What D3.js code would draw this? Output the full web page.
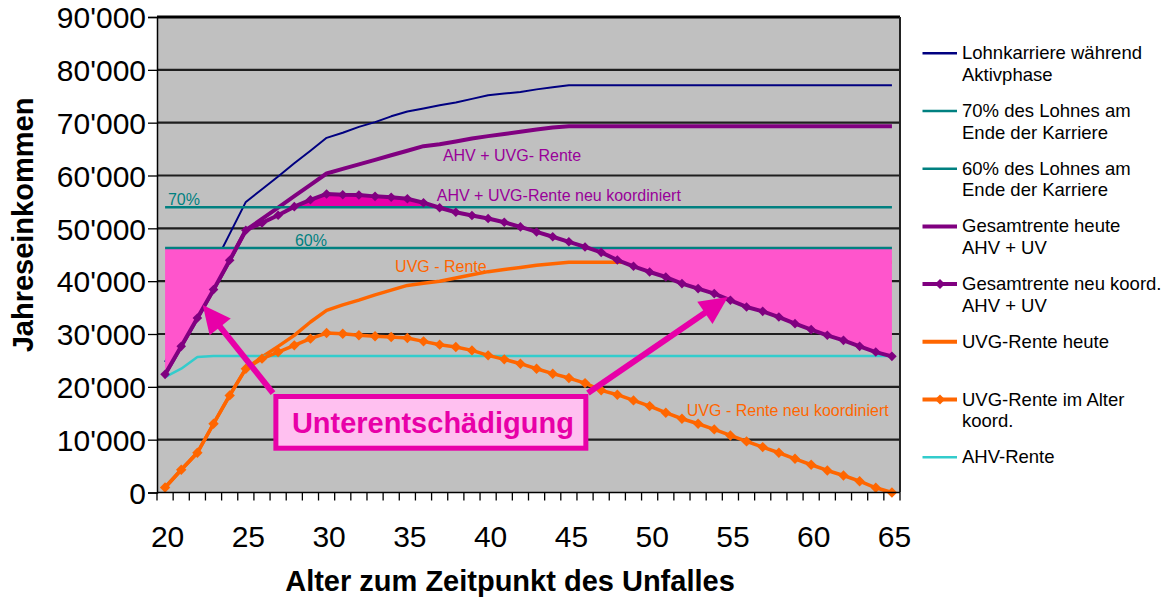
<!DOCTYPE html>
<html><head><meta charset="utf-8">
<script src="https://cdn.jsdelivr.net/npm/d3@7"></script>
<style>
body{margin:0;background:#fff}
svg{display:block}
text{font-family:"Liberation Sans",Arial,Helvetica,sans-serif}
</style>
</head><body>
<svg id="c" width="1171" height="599"></svg>
<script>
// ---------- DATA ----------
const ages = [20,21,22,23,24,25,26,27,28,29,30,31,32,33,34,35,36,37,38,39,40,41,42,43,44,45,46,47,48,49,50,51,52,53,54,55,56,57,58,59,60,61,62,63,64,65];

const lohn = [24700,30750,36800,42900,48950,55000,57400,59800,62300,64700,67130,68100,69200,70100,71200,72100,72700,73300,73800,74500,75200,75500,75800,76300,76700,77100,77100,77100,77100,77100,77100,77100,77100,77100,77100,77100,77100,77100,77100,77100,77100,77100,77100,77100,77100,77100];

const pct70 = [53970,53970,53970,53970,53970,53970,53970,53970,53970,53970,53970,53970,53970,53970,53970,53970,53970,53970,53970,53970,53970,53970,53970,53970,53970,53970,53970,53970,53970,53970,53970,53970,53970,53970,53970,53970,53970,53970,53970,53970,53970,53970,53970,53970,53970,53970];

const pct60 = [46260,46260,46260,46260,46260,46260,46260,46260,46260,46260,46260,46260,46260,46260,46260,46260,46260,46260,46260,46260,46260,46260,46260,46260,46260,46260,46260,46260,46260,46260,46260,46260,46260,46260,46260,46260,46260,46260,46260,46260,46260,46260,46260,46260,46260,46260];

const gesHeute = [22360,27660,33030,38400,43950,49640,51790,53940,56090,58230,60380,61240,62100,62970,63830,64690,65550,65900,66450,67000,67450,67850,68270,68700,69100,69300,69300,69300,69300,69300,69300,69300,69300,69300,69300,69300,69300,69300,69300,69300,69300,69300,69300,69300,69300,69300];

const gesNeu = [22360,27660,33030,38400,43950,49640,51030,52480,54100,55400,56500,56350,56300,56050,55880,55600,54850,53900,53050,52420,51850,51150,50270,49320,48400,47450,46480,45450,44000,42820,41740,40790,39540,38590,37650,36380,35120,34290,33210,31960,30830,29750,28800,27660,26580,25770];

const uvgHeute = [950,4300,7520,13010,18380,23430,25640,27660,29750,32270,34480,35500,36400,37400,38300,39200,39600,40000,40600,41200,41800,42200,42600,43000,43300,43600,43600,43600,43600,43600,43600,43600,43600,43600,43600,43600,43600,43600,43600,43600,43600,43600,43600,43600,43600,43600];

const uvgNeu = [950,4300,7520,13010,18380,23430,25330,26580,27850,29120,30180,30060,29750,29560,29430,29240,28610,27980,27530,26900,25960,25200,24380,23430,22490,21660,20710,19330,18510,17430,16350,15100,13960,13010,11940,10800,9670,8590,7520,6380,5250,4170,3220,2140,890,0];

const ahv = [21850,23430,25640,25830,25830,25830,25830,25830,25830,25830,25830,25830,25830,25830,25830,25830,25830,25830,25830,25830,25830,25830,25830,25830,25830,25830,25830,25830,25830,25830,25830,25830,25830,25830,25830,25830,25830,25830,25830,25830,25830,25830,25830,25830,25830,25830];

const yTicks = [0,10000,20000,30000,40000,50000,60000,70000,80000,90000];
const yTickLabels = ["0","10'000","20'000","30'000","40'000","50'000","60'000","70'000","80'000","90'000"];
const xTickLabels = [20,25,30,35,40,45,50,55,60,65];

const legendLabels = [
  ["Lohnkarriere während","Aktivphase"],
  ["70% des Lohnes am","Ende der Karriere"],
  ["60% des Lohnes am","Ende der Karriere"],
  ["Gesamtrente heute","AHV + UV"],
  ["Gesamtrente neu koord.","AHV + UV"],
  ["UVG-Rente heute"],
  ["UVG-Rente im Alter","koord."],
  ["AHV-Rente"]
];

const noteTexts = ["AHV + UVG- Rente","AHV + UVG-Rente neu koordiniert","70%","60%","UVG - Rente","UVG - Rente neu koordiniert"];
const noteAges = [37.2,36.82,20.18,28.04,34.24,52.3];
const noteValues = [62800,55230,54420,46720,41790,14540];

const boxLabel = "Unterentschädigung";
const boxAges = [26.86,46.05];
const boxValues = [18170,8385];
const boxTextAt = [36.58,11320];
const arrowFrom = [[26.68,18830],[46.18,18830]];
const arrowTo = [[22.33,35490],[54.85,37000]];

// ---------- STYLE ----------
const C = {navy:"#000080", teal:"#008080", purple:"#800080", orange:"#FF6600", cyan:"#33CCCC",
  pinkLight:"#FF55CC", pinkDark:"#E800AA", mag:"#E800A8", boxFill:"#FFC0F0", noteP:"#990099"};

const svg = d3.select("#c");
const pL=157, pR=900, pT=17, pB=492.5;

const x = d3.scaleBand().domain(ages).range([pL,pR]).padding(0);
const bw = x.bandwidth();
const cx = a => x(a) + bw/2;
const xl = d3.scaleLinear().domain([20,65]).range([cx(20), cx(65)]);
const y = d3.scaleLinear().domain([0,90000]).range([pB, pT]);

// plot background
svg.append("rect").attr("x",pL).attr("y",pT).attr("width",pR-pL).attr("height",pB-pT).attr("fill","#C0C0C0");

// gridlines
svg.append("g").selectAll("line").data(yTicks.filter(d=>d>0)).join("line")
  .attr("x1",pL).attr("x2",pR).attr("y1",d=>y(d)).attr("y2",d=>y(d))
  .attr("stroke",d=>d===90000?"#000":"#1e1e1e").attr("stroke-width",d=>d===90000?3:2.2);

// right border
svg.append("line").attr("x1",pR).attr("x2",pR).attr("y1",pT).attr("y2",pB).attr("stroke","#222").attr("stroke-width",2);

const toPts = s => ages.map((a,i)=>[a,s[i]]);
const line = d3.line().x(p=>xl(p[0])).y(p=>y(p[1]));

function drawLine(s, color, w){
  svg.append("path").attr("d",line(toPts(s))).attr("fill","none").attr("stroke",color)
    .attr("stroke-width",w).attr("stroke-linejoin","round");
}
const diamond = r => `M0,${-r}L${r},0L0,${r}L${-r},0Z`;
function drawMarkers(s, color, r){
  svg.append("g").selectAll("path").data(toPts(s)).join("path")
    .attr("d",diamond(r)).attr("transform",p=>`translate(${xl(p[0])},${y(p[1])})`).attr("fill",color);
}

// base lines
drawLine(lohn, C.navy, 2);
drawLine(gesHeute, C.purple, 4);
drawLine(uvgHeute, C.orange, 3.5);
drawLine(ahv, C.cyan, 2.5);
drawLine(uvgNeu, C.orange, 3.5);
drawMarkers(uvgNeu, C.orange, 5.2);

// regions between series and level
function regions(series, level, below){
  const out=[]; let cur=null;
  const cond = v => below ? v < level : v > level;
  for(let i=0;i<ages.length;i++){
    const a=ages[i], v=series[i];
    if(cond(v)){
      if(!cur){
        cur=[];
        if(i>0){ const a0=ages[i-1], v0=series[i-1]; const t=(level-v0)/(v-v0); cur.push([a0+t*(a-a0),level]); }
        else cur.push([a,level]);
      }
      cur.push([a,v]);
    } else if(cur){
      const a0=ages[i-1], v0=series[i-1]; const t=(level-v0)/(v-v0);
      cur.push([a0+t*(a-a0),level]); out.push(cur); cur=null;
    }
  }
  if(cur){ cur.push([ages[ages.length-1],level]); out.push(cur); }
  return out;
}
regions(gesNeu, pct60[0], true).forEach(r=>{
  svg.append("path").attr("d",line(r)+"Z").attr("fill",C.pinkLight);
});
regions(gesNeu, pct70[0], false).forEach(r=>{
  svg.append("path").attr("d",line(r)+"Z").attr("fill",C.pinkDark);
});

drawLine(pct70, C.teal, 2.5);
drawLine(pct60, C.teal, 2.5);
drawLine(gesNeu, C.purple, 4);
drawMarkers(gesNeu, C.purple, 4.8);

// axes
const gy = svg.append("g").attr("transform",`translate(${pL},0)`)
  .call(d3.axisLeft(y).tickValues(yTicks).tickFormat((d,i)=>yTickLabels[i]).tickSize(9).tickPadding(2));
gy.select(".domain").attr("stroke","#000").attr("stroke-width",1.5);
gy.selectAll(".tick line").attr("stroke","#000").attr("stroke-width",1.3);
gy.selectAll(".tick text").attr("font-size",30).attr("fill","#000").attr("font-family",null).attr("dy","0.36em");

svg.append("line").attr("x1",pL).attr("x2",pR).attr("y1",pB).attr("y2",pB).attr("stroke","#000").attr("stroke-width",1.5);
const edges = ages.map(a=>x(a)).concat([x(65)+bw]);
svg.append("g").selectAll("line").data(edges).join("line")
  .attr("x1",d=>d).attr("x2",d=>d).attr("y1",pB).attr("y2",pB+8).attr("stroke","#000").attr("stroke-width",1.3);
const gx = svg.append("g").attr("transform",`translate(2,${pB})`)
  .call(d3.axisBottom(xl).tickValues(xTickLabels).tickFormat(d=>String(d)).tickSize(0).tickPadding(33));
gx.select(".domain").remove();
gx.selectAll(".tick text").attr("font-size",30).attr("fill","#000").attr("font-family",null);

// axis titles
svg.append("text").attr("transform","translate(33,225) rotate(-90)").attr("text-anchor","middle")
  .attr("font-size",29).attr("font-weight","bold").text("Jahreseinkommen");
svg.append("text").attr("x",510).attr("y",591).attr("text-anchor","middle")
  .attr("font-size",29).attr("font-weight","bold").text("Alter zum Zeitpunkt des Unfalles");

// annotations
const noteColors = [C.noteP,C.noteP,C.teal,C.teal,C.orange,C.orange];
noteTexts.forEach((t,i)=>{
  svg.append("text").attr("x",xl(noteAges[i])).attr("y",y(noteValues[i])).attr("font-size",16)
    .attr("fill",noteColors[i]).text(t);
});

// arrows
arrowFrom.forEach((f,i)=>{
  const x0=xl(f[0]), y0=y(f[1]), x1=xl(arrowTo[i][0]), y1=y(arrowTo[i][1]);
  const dx=x1-x0, dy=y1-y0, L=Math.hypot(dx,dy), ux=dx/L, uy=dy/L;
  const hl=28, hw=13.5;
  const bx=x1-ux*hl, by=y1-uy*hl;
  svg.append("line").attr("x1",x0).attr("y1",y0).attr("x2",bx+ux*2).attr("y2",by+uy*2)
    .attr("stroke",C.mag).attr("stroke-width",6);
  svg.append("path").attr("d",`M${x1},${y1}L${bx-uy*hw},${by+ux*hw}L${bx+uy*hw},${by-ux*hw}Z`).attr("fill",C.mag);
});

// box
svg.append("rect").attr("x",xl(boxAges[0])).attr("y",y(boxValues[0]))
  .attr("width",xl(boxAges[1])-xl(boxAges[0])).attr("height",y(boxValues[1])-y(boxValues[0]))
  .attr("fill",C.boxFill).attr("stroke",C.mag).attr("stroke-width",5);
svg.append("text").attr("x",xl(boxTextAt[0])).attr("y",y(boxTextAt[1])).attr("text-anchor","middle")
  .attr("font-size",29).attr("font-weight","bold").attr("fill",C.mag).text(boxLabel);

// legend
const legColors = [C.navy,C.teal,C.teal,C.purple,C.purple,C.orange,C.orange,C.cyan];
const legWidths = [2.5,2.5,2.5,4,4,4,4,2.5];
const legMarker = [false,false,false,false,true,false,true,false];
const lg = svg.append("g");
legendLabels.forEach((lab,i)=>{
  const ly = 53.3 + i*57.7;
  lg.append("line").attr("x1",922.5).attr("x2",957).attr("y1",ly).attr("y2",ly)
    .attr("stroke",legColors[i]).attr("stroke-width",legWidths[i]);
  if(legMarker[i]) lg.append("path").attr("d",diamond(5)).attr("transform",`translate(940,${ly})`).attr("fill",legColors[i]);
  const t = lg.append("text").attr("x",962).attr("y",ly+6).attr("font-size",18.5).attr("fill","#000");
  lab.forEach((s,j)=>t.append("tspan").attr("x",962).attr("dy",j===0?0:21.7).text(s));
});
</script>
</body></html>
